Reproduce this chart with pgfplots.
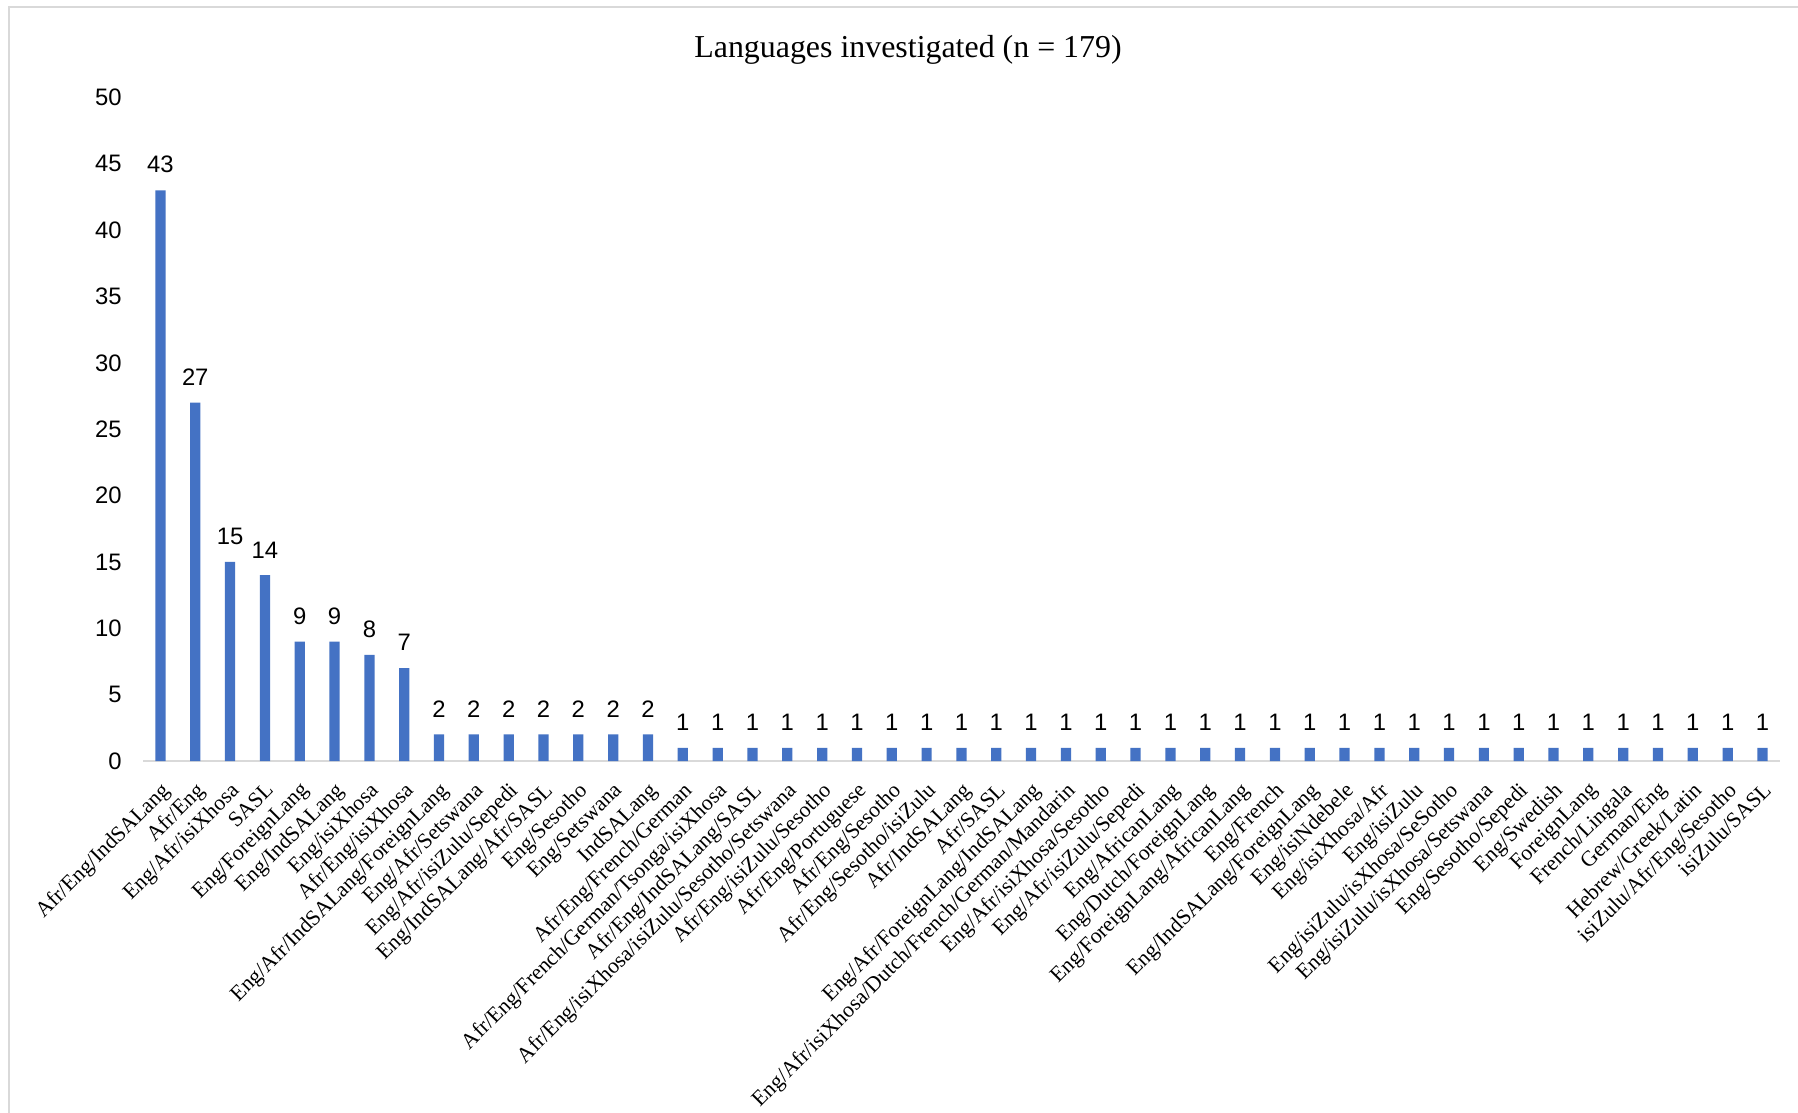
\documentclass[border=0pt]{standalone}
\usepackage{pgfplots}
\pgfplotsset{compat=1.18}
\usepackage{fontspec}
\setmainfont{Liberation Serif}
\newfontfamily\arial{Liberation Sans}
\definecolor{barblue}{HTML}{4472C4}
\definecolor{axgray}{HTML}{D9D9D9}
\begin{document}
\begin{tikzpicture}
\useasboundingbox (0pt,0pt) rectangle (755.16pt,-467.04pt);
\fill[white] (0pt,0pt) rectangle (755.16pt,-467.04pt);
\draw[axgray,line width=0.9pt] (3.78pt,-2.94pt) rectangle (760pt,-472pt);
\node[font=\fontsize{13.4}{16}\selectfont] at (381.36pt,-20.8pt) {Languages investigated (n = 179)};
\begin{axis}[
  at={(60.06pt,-319.62pt)}, anchor=south west,
  scale only axis,
  width=687.5pt, height=278.7pt,
  xmin=-0.5, xmax=46.5, ymin=0, ymax=50,
  axis lines*=left,
  axis line style={draw=none},
  /pgf/number format/assume math mode=true,
  ytick={0,5,...,50},
  major tick length=0pt,
  yticklabel style={font=\arial\fontsize{10}{12}\selectfont, inner sep=0pt, xshift=-8.8pt},
  xtick={0,...,46},
  xticklabels={Afr/Eng/IndSALang, Afr/Eng, Eng/Afr/isiXhosa, SASL, Eng/ForeignLang, Eng/IndSALang, Eng/isiXhosa, Afr/Eng/isiXhosa, Eng/Afr/IndSALang/ForeignLang, Eng/Afr/Setswana, Eng/Afr/isiZulu/Sepedi, Eng/IndSALang/Afr/SASL, Eng/Sesotho, Eng/Setswana, IndSALang, Afr/Eng/French/German, Afr/Eng/French/German/Tsonga/isiXhosa, Afr/Eng/IndSALang/SASL, Afr/Eng/isiXhosa/isiZulu/Sesotho/Setswana, Afr/Eng/isiZulu/Sesotho, Afr/Eng/Portuguese, Afr/Eng/Sesotho, Afr/Eng/Sesotho/isiZulu, Afr/IndSALang, Afr/SASL, Eng/Afr/ForeignLang/IndSALang, Eng/Afr/isiXhosa/Dutch/French/German/Mandarin, Eng/Afr/isiXhosa/Sesotho, Eng/Afr/isiZulu/Sepedi, Eng/AfricanLang, Eng/Dutch/ForeignLang, Eng/ForeignLang/AfricanLang, Eng/French, Eng/IndSALang/ForeignLang, Eng/isiNdebele, Eng/isiXhosa/Afr, Eng/isiZulu, Eng/isiZulu/isXhosa/SeSotho, Eng/isiZulu/isXhosa/Setswana, Eng/Sesotho/Sepedi, Eng/Swedish, ForeignLang, French/Lingala, German/Eng, Hebrew/Greek/Latin, isiZulu/Afr/Eng/Sesotho, isiZulu/SASL},
  xticklabel style={font=\fontsize{9.15}{11}\selectfont, rotate=45, anchor=north east, inner sep=0pt, yshift=-5.5pt, xshift=-6pt},
  clip=false,
]
\draw[axgray, line width=1.1pt] (axis cs:-0.5,0) -- (axis cs:46.5,0);
\addplot[ybar, bar width=4.3pt, fill=barblue, draw=none,
  nodes near coords,
  every node near coord/.append style={font=\arial\fontsize{10}{12}\selectfont, anchor=south, inner sep=0pt, yshift=7pt}]
coordinates {
(0,43) (1,27) (2,15) (3,14) (4,9) (5,9) (6,8) (7,7)
(8,2) (9,2) (10,2) (11,2) (12,2) (13,2) (14,2)
(15,1) (16,1) (17,1) (18,1) (19,1) (20,1) (21,1) (22,1) (23,1) (24,1)
(25,1) (26,1) (27,1) (28,1) (29,1) (30,1) (31,1) (32,1) (33,1) (34,1)
(35,1) (36,1) (37,1) (38,1) (39,1) (40,1) (41,1) (42,1) (43,1) (44,1)
(45,1) (46,1)
};
\end{axis}
\end{tikzpicture}
\end{document}
